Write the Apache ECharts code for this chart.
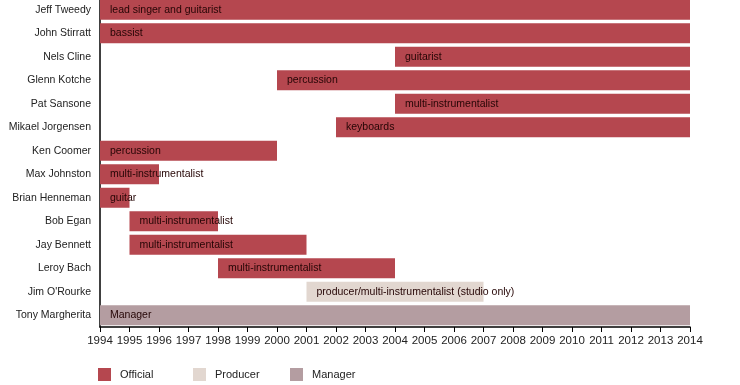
<!DOCTYPE html>
<html>
<head>
<meta charset="utf-8">
<script src="https://cdn.jsdelivr.net/npm/echarts@6/dist/echarts.min.js"></script>
<style>html,body{margin:0;padding:0;background:#fff;overflow:hidden}#c{width:740px;height:387px;margin-top:-2px}</style>
</head>
<body>
<div id="c"></div>
<script>
var members = ["Jeff Tweedy","John Stirratt","Nels Cline","Glenn Kotche","Pat Sansone","Mikael Jorgensen","Ken Coomer","Max Johnston","Brian Henneman","Bob Egan","Jay Bennett","Leroy Bach","Jim O'Rourke","Tony Margherita"];
var starts = [1994,1994,2004,2000,2004,2002,1994,1994,1994,1995,1995,1998,2001,1994];
var ends   = [2014,2014,2014,2014,2014,2014,2000,1996,1995,1998,2001,2004,2007,2014];
var roles  = ["lead singer and guitarist","bassist","guitarist","percussion","multi-instrumentalist","keyboards","percussion","multi-instrumentalist","guitar","multi-instrumentalist","multi-instrumentalist","multi-instrumentalist","producer/multi-instrumentalist (studio only)","Manager"];
var types  = ["Official","Official","Official","Official","Official","Official","Official","Official","Official","Official","Official","Official","Producer","Manager"];
var typeNames = ["Official","Producer","Manager"];
var colors = {Official:"#b5474f", Producer:"#e2d7d0", Manager:"#b49da1"};
var years = [1994,2014];

var chart = echarts.init(document.getElementById('c'), null, {renderer:'canvas'});
var series = [{
  name:'base', type:'bar', stack:'t', barWidth:20, silent:true,
  itemStyle:{color:'transparent'},
  data: starts.map(function(s){return s;})
}];
typeNames.forEach(function(t){
  series.push({
    name:t, type:'bar', stack:'t', barWidth:20,
    itemStyle:{color:colors[t]},
    label:{show:true, position:'insideLeft', distance:10, color:'#250505', fontSize:10.5, fontFamily:'Liberation Sans, Arial',
      formatter:function(p){return roles[p.dataIndex];}},
    data: members.map(function(m,i){return types[i]===t ? ends[i]-starts[i] : '-';})
  });
});
var legendLefts = [93, 188, 285];
chart.setOption({
  animation:false,
  grid:{left:100, right:50, top:0, bottom:58},
  xAxis:{type:'value', min:years[0], max:years[1], interval:1,
    axisLine:{show:true, lineStyle:{color:'#000', width:1.5}},
    axisTick:{show:true, length:5, lineStyle:{color:'#000'}},
    axisLabel:{color:'#222', fontSize:11.5, fontFamily:'Liberation Sans, Arial', margin:8,
      showMinLabel:true, showMaxLabel:true, hideOverlap:false,
      formatter:function(v){return String(v);}},
    splitLine:{show:false}},
  yAxis:{type:'category', data:members, inverse:true,
    axisLine:{show:true, lineStyle:{color:'#000', width:1.5}},
    axisTick:{show:false},
    axisLabel:{color:'#222', fontSize:10.5, fontFamily:'Liberation Sans, Arial', margin:9}},
  legend: typeNames.map(function(t,i){
    return {data:[t], left:legendLefts[i], top:365, itemWidth:13, itemHeight:13, itemGap:0,
      icon:'rect', textStyle:{color:'#222', fontSize:11, fontFamily:'Liberation Sans, Arial', padding:[0,0,0,4]}};
  }),
  series: series
});
</script>
</body>
</html>
